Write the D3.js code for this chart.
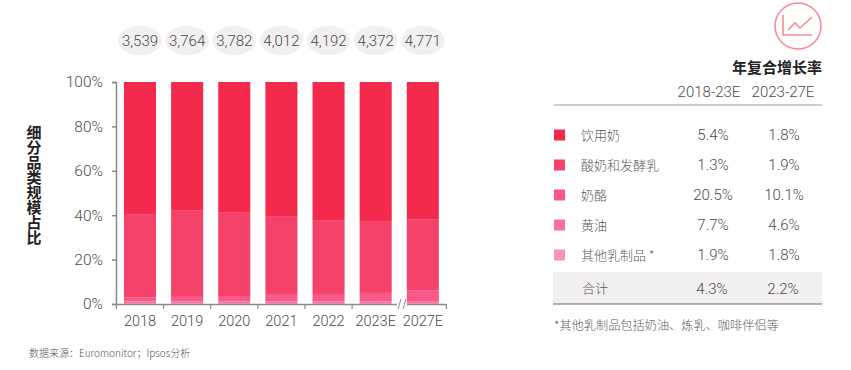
<!DOCTYPE html>
<html>
<head>
<meta charset="utf-8">
<script src="https://cdn.jsdelivr.net/npm/d3@7"></script>
<style>
html,body{margin:0;padding:0;background:#fff;}
text{font-family:"Noto Sans CJK SC","Liberation Sans",sans-serif;font-weight:300;fill:#5a5a5a;}
text.num{font-family:Roboto,"Liberation Sans",sans-serif;font-weight:300;fill:#4a4a4a;}
</style>
</head>
<body>
<script>
var years = ['2018','2019','2020','2021','2022','2023E','2027E'];
var totals = ['3,539','3,764','3,782','4,012','4,192','4,372','4,771'];

//segment shares in %
var milk = [59.5,57.7,58.6,60.4,62.2,62.6,61.8];
var yogurt = [37.6,39.1,37.8,35.1,33.3,32.4,32.2];
var cheese = [1.8,2.1,2.5,3.3,3.3,3.8,4.7];
var butter = [0.7,0.7,0.7,0.8,0.8,0.8,0.9];
var other = [0.4,0.4,0.4,0.4,0.4,0.4,0.4];

var seriesNames = ['饮用奶','酸奶和发酵乳','奶酪','黄油','其他乳制品 *'];
var seriesColors = ['#F42A4C','#F4426B','#F9588A','#F9709F','#F991BB'];
var cagr1 = ['5.4%','1.3%','20.5%','7.7%','1.9%'];
var cagr2 = ['1.8%','1.9%','10.1%','4.6%','1.8%'];
var totalRow = ['合计','4.3%','2.2%'];
var yTicks = [0,20,40,60,80,100];

var axisColor = '#8a8a8a';
var svg = d3.select('body').append('svg').attr('width',851).attr('height',370).style('display','block');

var x = d3.scaleBand().domain(years).range([116.4,446.4]).paddingInner(0.32).paddingOuter(0.16);
var y = d3.scaleLinear().domain([0,100]).range([304,82]);

//stack, bottom layer first
var rows = years.map(function(d,i){
	return {year:d,s0:milk[i],s1:yogurt[i],s2:cheese[i],s3:butter[i],s4:other[i]};
});
var stack = d3.stack().keys(['s4','s3','s2','s1','s0'])(rows);
var layerColor = {s0:seriesColors[0],s1:seriesColors[1],s2:seriesColors[2],s3:seriesColors[3],s4:seriesColors[4]};

svg.selectAll('.layer').data(stack).enter().append('g')
	.attr('class','layer')
	.attr('fill',function(d){ return layerColor[d.key]; })
	.selectAll('rect').data(function(d){ return d; }).enter().append('rect')
		.attr('x',function(d){ return x(d.data.year); })
		.attr('width',x.bandwidth())
		.attr('y',function(d){ return y(d[1]); })
		.attr('height',function(d){ return y(d[0])-y(d[1]); });

//y axis
var yAxis = d3.axisLeft(y).tickValues(yTicks).tickSize(4).tickFormat(function(d){ return d+'%'; });
var gy = svg.append('g').attr('transform','translate(116,0)').call(yAxis);
gy.selectAll('path,line').attr('stroke',axisColor).attr('stroke-width',1.5);
gy.selectAll('text').attr('class','num').attr('x',-13).style('font-size','15.5px');

//x axis
var xAxis = d3.axisBottom(x).tickSize(0).tickPadding(11);
var gx = svg.append('g').attr('transform','translate(0,304.5)').call(xAxis);
gx.select('.domain').remove();
gx.selectAll('text').attr('class','num').style('font-size','14.5px');

var step = x.step();
var edge = function(i){ return x(years[0])-step*0.16+step*i; };
var axisParts = [[edge(0),397],[407,edge(7)]];
svg.selectAll('.xline').data(axisParts).enter().append('line')
	.attr('class','xline')
	.attr('x1',function(d){ return d[0]; }).attr('x2',function(d){ return d[1]; })
	.attr('y1',304.5).attr('y2',304.5)
	.attr('stroke',axisColor).attr('stroke-width',1.5);
svg.selectAll('.xtick').data([0,1,2,3,4,5,7]).enter().append('line')
	.attr('class','xtick')
	.attr('x1',function(d){ return edge(d); }).attr('x2',function(d){ return edge(d); })
	.attr('y1',304).attr('y2',309)
	.attr('stroke',axisColor).attr('stroke-width',1.2);
//axis break
svg.selectAll('.brk').data([0,5]).enter().append('line')
	.attr('class','brk')
	.attr('x1',function(d){ return 398+d; }).attr('x2',function(d){ return 401+d; })
	.attr('y1',309).attr('y2',299)
	.attr('stroke',axisColor).attr('stroke-width',1);

//totals above the bars
var bub = svg.selectAll('.bub').data(years).enter().append('g').attr('class','bub')
	.attr('transform',function(d){ return 'translate('+(x(d)+x.bandwidth()/2)+',40.5)'; });
bub.append('ellipse').attr('rx',22).attr('ry',14.5).attr('fill','#F1EFEF');
bub.append('text').attr('class','num').attr('text-anchor','middle').attr('dy','0.36em')
	.style('font-size','15px')
	.text(function(d,i){ return totals[i]; });

//y title
svg.append('text').attr('x',34).attr('y',125)
	.style('writing-mode','vertical-rl')
	.style('font-size','15px').style('font-weight','700').style('fill','#222')
	.attr('text-anchor','start')
	.text('细分品类规模占比');

svg.append('text').attr('x',29).attr('y',357)
	.style('font-size','10px').style('fill','#555')
	.text('数据来源：Euromonitor；Ipsos分析');

//icon
var icon = svg.append('g').attr('fill','none').attr('stroke','#F78B98').attr('stroke-width',1.6);
icon.append('circle').attr('cx',798).attr('cy',26).attr('r',23);
icon.append('path').attr('d','M783 15V35H812');
icon.append('path').attr('d','M788 30L795 23L800 28L812 17');

//table
svg.append('text').attr('x',822).attr('y',73).attr('text-anchor','end')
	.style('font-size','15px').style('font-weight','700').style('fill','#222')
	.text('年复合增长率');
svg.append('text').attr('class','num').attr('x',709).attr('y',96.5).attr('text-anchor','middle')
	.style('font-size','15px').text('2018-23E');
svg.append('text').attr('class','num').attr('x',783).attr('y',96.5).attr('text-anchor','middle')
	.style('font-size','15px').text('2023-27E');
svg.append('line').attr('x1',554).attr('x2',822).attr('y1',105).attr('y2',105)
	.attr('stroke','#999').attr('stroke-width',1.2);

var rowY = d3.scalePoint().domain(seriesNames).range([135,255]);
var tr = svg.selectAll('.tr').data(seriesNames).enter().append('g').attr('class','tr')
	.attr('transform',function(d){ return 'translate(0,'+rowY(d)+')'; });
tr.append('rect').attr('x',554).attr('y',-5.5).attr('width',11).attr('height',11)
	.attr('fill',function(d,i){ return seriesColors[i]; });
tr.append('text').attr('x',581).attr('dy','0.36em').style('font-size','13px')
	.text(function(d){ return d; });
tr.append('text').attr('class','num').attr('x',713).attr('dy','0.36em').attr('text-anchor','middle')
	.style('font-size','15px')
	.text(function(d,i){ return cagr1[i]; });
tr.append('text').attr('class','num').attr('x',784).attr('dy','0.36em').attr('text-anchor','middle')
	.style('font-size','15px')
	.text(function(d,i){ return cagr2[i]; });

svg.append('rect').attr('x',553).attr('y',272).attr('width',269).attr('height',32).attr('fill','#F1EFEF');
svg.append('line').attr('x1',553).attr('x2',822).attr('y1',304).attr('y2',304)
	.attr('stroke','#999').attr('stroke-width',1.5);
svg.append('text').attr('x',582).attr('y',288.5).attr('dy','0.36em').style('font-size','13px').text(totalRow[0]);
svg.append('text').attr('class','num').attr('x',712).attr('y',288.5).attr('dy','0.36em').attr('text-anchor','middle')
	.style('font-size','15px').text(totalRow[1]);
svg.append('text').attr('class','num').attr('x',783).attr('y',288.5).attr('dy','0.36em').attr('text-anchor','middle')
	.style('font-size','15px').text(totalRow[2]);

svg.append('text').attr('x',554).attr('y',329.5).style('font-size','12.2px')
	.text('*其他乳制品包括奶油、炼乳、咖啡伴侣等');
</script>
</body>
</html>
